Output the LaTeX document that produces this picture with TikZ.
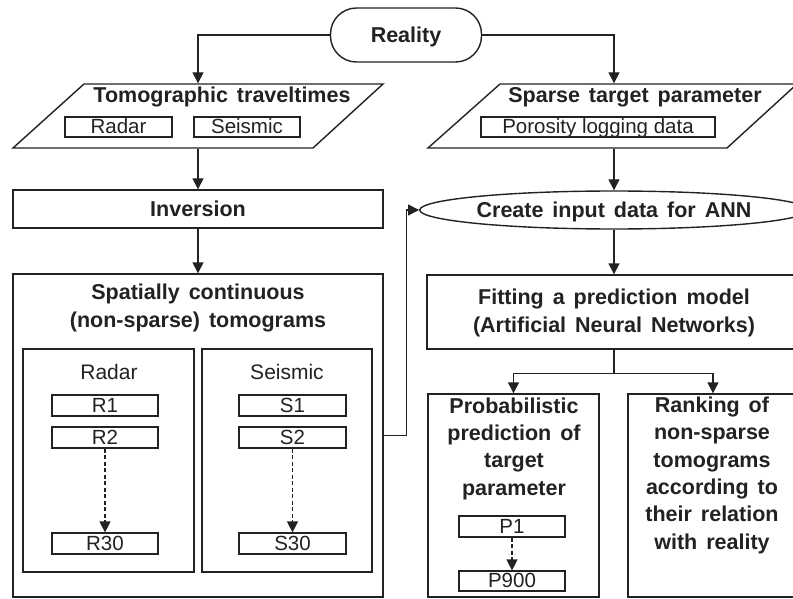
\documentclass[tikz,border=0pt]{standalone}
\usepackage{fontspec}
\setmainfont{Liberation Sans}
\newfontfamily\headfont[WordSpace=1.5]{Liberation Sans}
\usetikzlibrary{arrows.meta,shapes.geometric}
\definecolor{ink}{RGB}{34,34,34}

\begin{document}
\begin{tikzpicture}[x=1pt,y=-1pt,
  line width=1.4pt, draw=ink, text=ink,
  reg/.style={font=\fontsize{20.5}{26}\selectfont},
  hd/.style={font=\headfont\bfseries\fontsize{21.5}{27.3}\selectfont},
  frame/.style={draw=ink, rectangle, inner sep=0pt},
  capbox/.style={frame, hd, text height=15.4pt, text depth=0pt},
  tag/.style={frame, reg, line width=1.2pt, minimum width=106pt, minimum height=21pt,
              text height=16pt, text depth=3pt},
  ghost/.style={rectangle, inner sep=0pt},
  lbl/.style={inner sep=0pt, anchor=base, align=center},
  arr/.style={-{Triangle[length=11pt,width=11pt]}, draw=ink},
  dasharr/.style={arr, line width=1.3pt, dash pattern=on 4pt off 2.5pt}
]
\clip (0,0) rectangle (793,599);
\fill[white] (0,0) rectangle (793,599);

% start
\node[frame, hd, rounded corners=26pt, minimum width=151pt, minimum height=54pt,
      text height=15.4pt, text depth=0pt] (real) at (406,35) {Reality};

% input data (parallelograms)
\node[ghost, minimum width=230pt, minimum height=64pt] (tt) at (198,116) {};
\draw (84,84) -- (383,84) -- (313,148) -- (13,148) -- cycle;
\node[lbl, hd] (tttxt) at (222,103) {Tomographic traveltimes};
\node[tag, minimum width=107pt, minimum height=20pt, text depth=2pt, text height=16pt] (rad) at (118.5,127) {Radar};
\node[tag, minimum width=106pt, minimum height=20pt, text depth=2pt, text height=16pt] (seis) at (247,127) {Seismic};

\node[ghost, minimum width=230pt, minimum height=64pt] (sp) at (614,116) {};
\draw (500,84) -- (797,84) -- (727,148) -- (428,148) -- cycle;
\node[lbl, hd] (sptxt) at (635,103) {Sparse target parameter};
\node[tag, minimum width=234pt, minimum height=20pt, text depth=2pt, text height=16pt] (poro) at (598,127) {Porosity logging data};

% left branch
\node[capbox, minimum width=370pt, minimum height=38pt] (inv) at (198,209) {Inversion};
\node[frame, minimum width=370pt, minimum height=323pt] (tomo) at (198,435.5) {};
% multi-line labels are placed by the baseline of their last line
\node[lbl, hd] (tomotxt) at (198,327) {Spatially continuous\\(non-sparse) tomograms};

\node[frame, minimum width=171pt, minimum height=223pt] (rbox) at (108.5,460.5) {};
\node[frame, minimum width=170pt, minimum height=223pt] (sbox) at (287,460.5) {};
\node[lbl, font=\fontsize{21}{26}\selectfont] (rlab) at (109,379) {Radar};
\node[lbl, font=\fontsize{21}{26}\selectfont] (slab) at (287,379) {Seismic};

\node[tag] (r1)  at (105,405.5) {R1};
\node[tag] (r2)  at (105,437.5) {R2};
\node[tag] (r30) at (105,543.5) {R30};
\node[tag, minimum width=107pt] (s1)  at (292.5,405.5) {S1};
\node[tag, minimum width=107pt] (s2)  at (292.5,437.5) {S2};
\node[tag, minimum width=107pt] (s30) at (292.5,543.5) {S30};

% right branch
\node[draw=ink, ellipse, inner sep=0pt, minimum width=372pt, minimum height=38pt,
      hd, text height=15.4pt, text depth=0pt] (ann) at (614,210) {Create input data for ANN};
\node[frame, minimum width=374pt, minimum height=74pt] (fit) at (614,312) {};
\node[lbl, hd] (fittxt) at (614,332) {Fitting a prediction model\\(Artificial Neural Networks)};

\node[frame, minimum width=171pt, minimum height=203pt] (prob) at (513.5,495.5) {};
\node[lbl, hd] (probtxt) at (514,495) {Probabilistic\\prediction of\\target\\parameter};
\node[tag] (p1)   at (512,526.5) {P1};
\node[tag, minimum height=20pt] (p900) at (512,581) {P900};

\node[frame, minimum width=170pt, minimum height=203pt] (rank) at (713,495.5) {};
\node[lbl, hd] (ranktxt) at (712,549) {Ranking of\\non-sparse\\tomograms\\according to\\their relation\\with reality};

% connectors
\draw[arr] (real.west) -| (tt.north);
\draw[arr] (real.east) -| (sp.north);
\draw[arr] (tt.south) -- (inv.north);
\draw[arr] (inv.south) -- (tomo.north);
\draw[arr] (sp.south) -- (ann.north);
\draw[arr] (tomo.east) -- ++(23,0) |- (ann.west);
\draw[arr] (ann.south) -- (fit.north);
\draw (fit.south) -- ++(0,24) coordinate (split);
\draw[arr] (split) -| (prob.north);
\draw[arr] (split) -| (rank.north);

\draw[dasharr] (r2.south) -- (r30.north);
\draw[dasharr] (s2.south) -- (s30.north);
\draw[dasharr] (p1.south) -- (p900.north);
\end{tikzpicture}
\end{document}
